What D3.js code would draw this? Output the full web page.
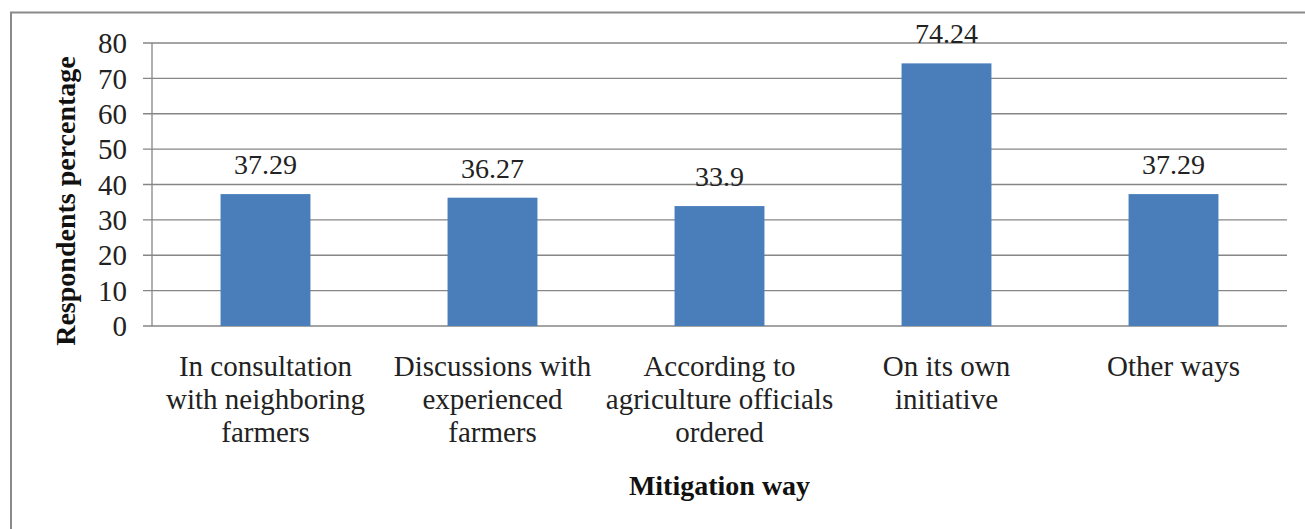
<!DOCTYPE html>
<html><head><meta charset="utf-8">
<script src="https://cdn.jsdelivr.net/npm/d3@7"></script>
<style>body{margin:0;background:#fff}svg{display:block}text{font-family:"Liberation Serif",serif}</style>
</head><body>
<svg id="c" width="1305" height="529"></svg>
<script>
const categories = [
  ["In consultation","with neighboring","farmers"],
  ["Discussions with","experienced","farmers"],
  ["According to","agriculture officials","ordered"],
  ["On its own","initiative"],
  ["Other ways"]
];
const values = [37.29, 36.27, 33.9, 74.24, 37.29];
const valueLabels = ["37.29","36.27","33.9","74.24","37.29"];
const yTicks = [0,10,20,30,40,50,60,70,80];
const yTitle = "Respondents percentage";
const xTitle = "Mitigation way";

const svg = d3.select("#c");
svg.append("rect").attr("x",11).attr("y",12.5).attr("width",1310).attr("height",530)
  .attr("fill","#fff").attr("stroke","#8a8a8a").attr("stroke-width",2);

const L=152, R=1287, T=43, B=326;
const x = d3.scaleBand().domain(d3.range(values.length)).range([L,R]).paddingInner(0.604).paddingOuter(0.302);
const y = d3.scaleLinear().domain([0,80]).range([B,T]);

const g = svg.append("g");
g.selectAll("line.grid").data(yTicks).join("line")
  .attr("x1",L-9).attr("x2",R).attr("y1",d=>y(d)).attr("y2",d=>y(d))
  .attr("stroke","#868686").attr("stroke-width",1.3);
g.append("line").attr("x1",L).attr("x2",L).attr("y1",T).attr("y2",B)
  .attr("stroke","#868686").attr("stroke-width",1.3);

g.selectAll("text.tick").data(yTicks).join("text")
  .attr("x",127).attr("y",d=>y(d)).attr("dy","0.35em")
  .attr("text-anchor","end").attr("font-size",29).attr("fill","#222")
  .text(d=>d);

g.selectAll("rect.bar").data(values).join("rect")
  .attr("x",(d,i)=>x(i)).attr("width",x.bandwidth())
  .attr("y",d=>y(d)).attr("height",d=>B-y(d)).attr("fill","#4a7ebb");

g.selectAll("text.val").data(values).join("text")
  .attr("x",(d,i)=>x(i)+x.bandwidth()/2).attr("y",d=>y(d)-20)
  .attr("text-anchor","middle").attr("font-size",28).attr("fill","#222")
  .text((d,i)=>valueLabels[i]);

categories.forEach((lines,i)=>{
  const t = g.append("text").attr("text-anchor","middle")
    .attr("font-size",29).attr("fill","#222");
  lines.forEach((s,j)=>{
    t.append("tspan").attr("x",x(i)+x.bandwidth()/2).attr("y",376+j*33).text(s);
  });
});

g.append("text").attr("x",(L+R)/2).attr("y",495).attr("text-anchor","middle")
  .attr("font-size",28).attr("font-weight","bold").attr("fill","#111")
  .text(xTitle);
g.append("text").attr("transform","translate(75,201) rotate(-90)").attr("text-anchor","middle")
  .attr("font-size",28).attr("font-weight","bold").attr("fill","#111")
  .text(yTitle);
</script>
</body></html>
